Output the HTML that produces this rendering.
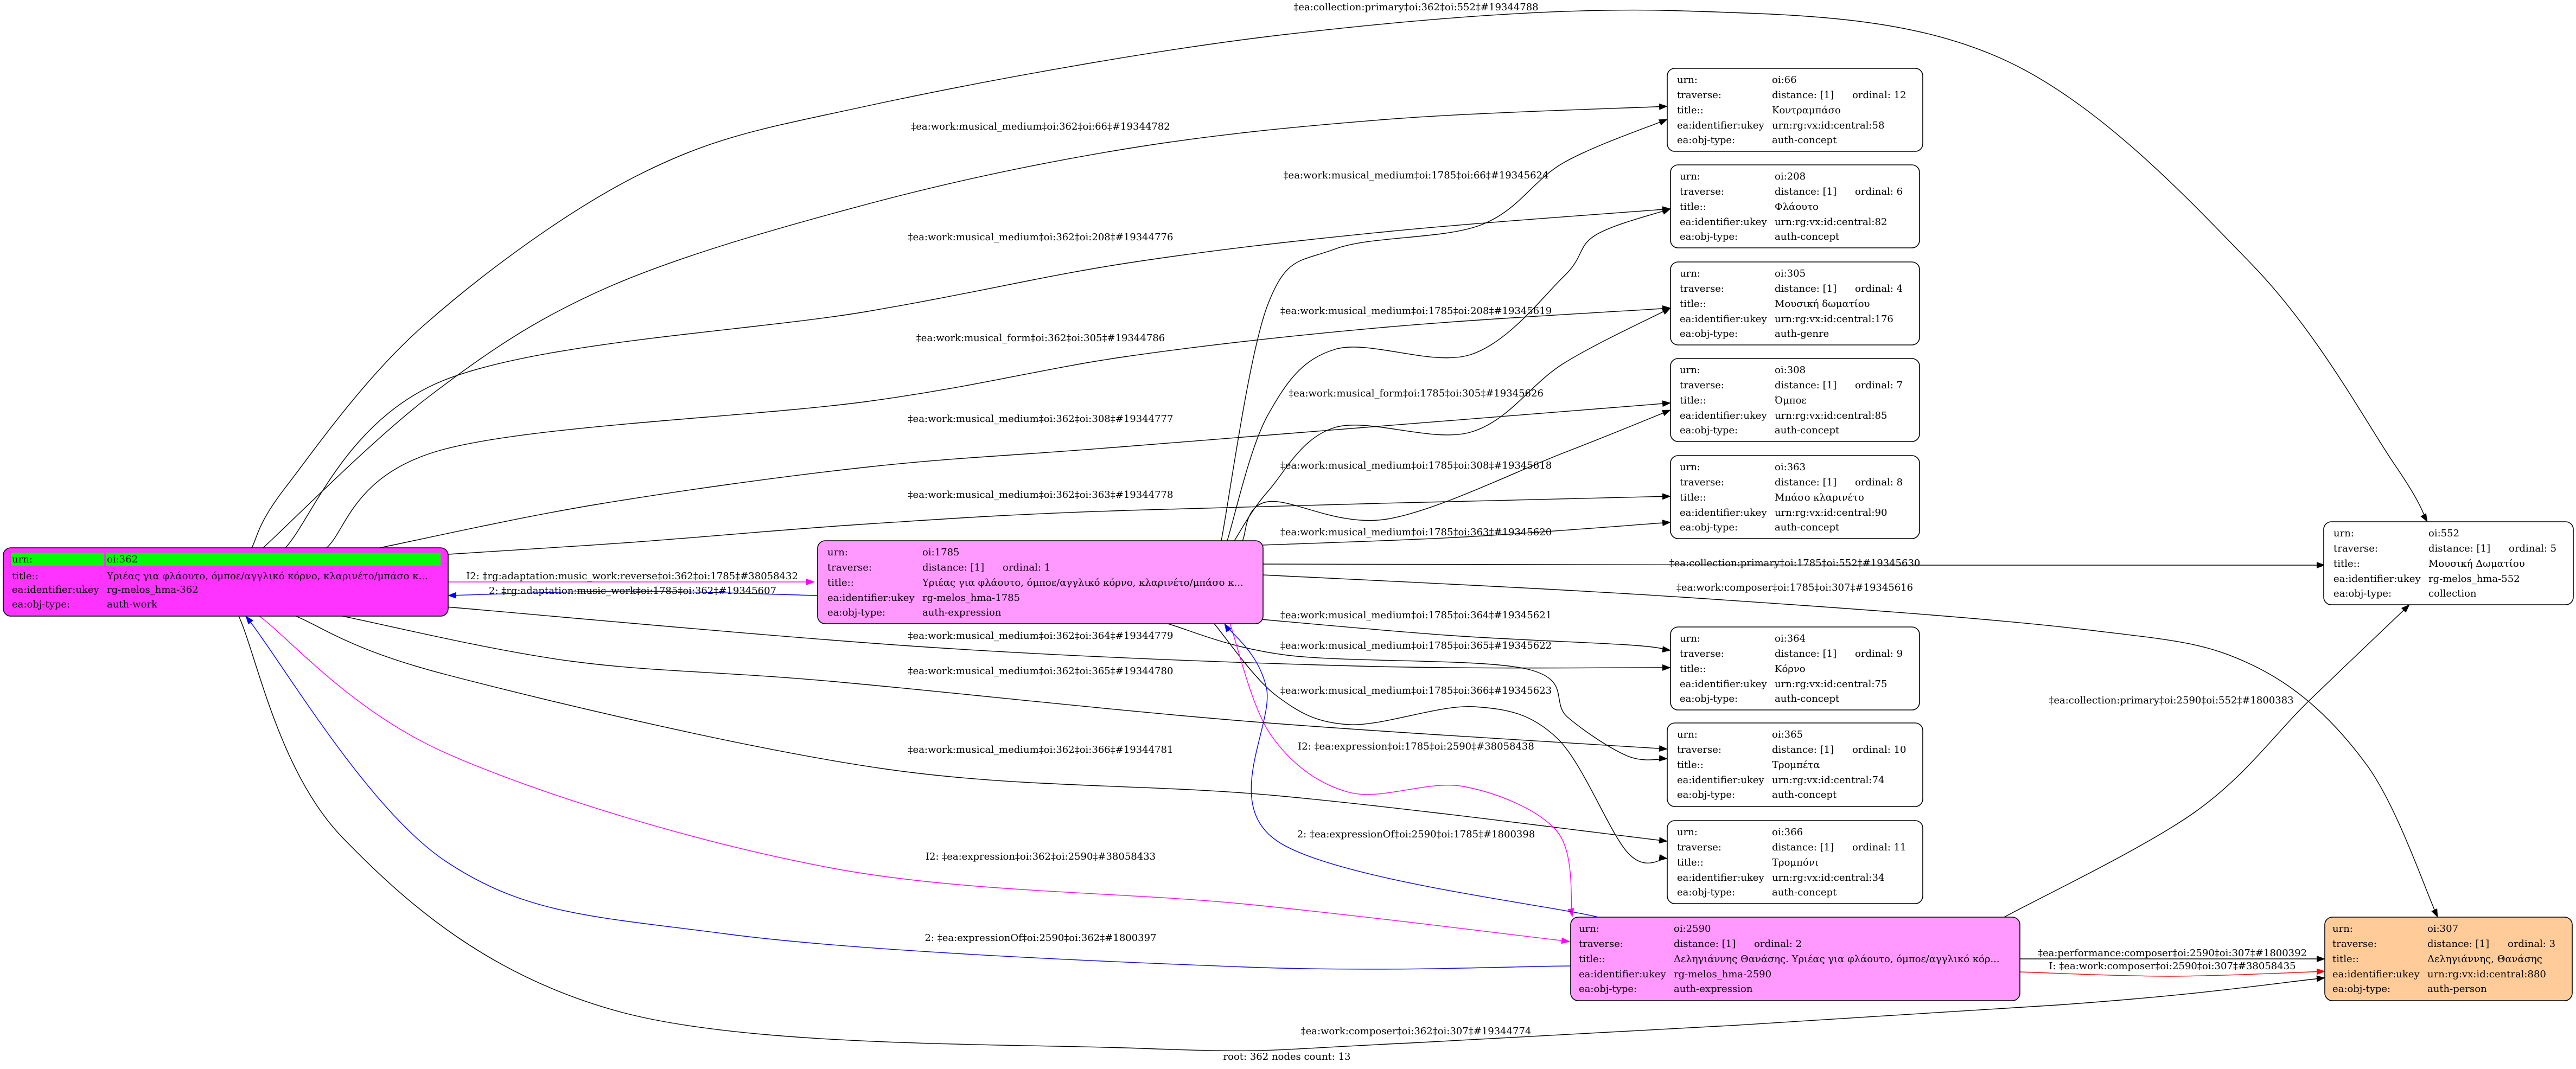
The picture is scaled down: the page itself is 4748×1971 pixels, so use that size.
<!DOCTYPE html>
<html><head><meta charset="utf-8"><style>
html,body{margin:0;padding:0;background:#fff;}
svg{display:block;}
text{font-family:"DejaVu Serif","Liberation Serif",serif;font-size:18px;fill:#000;}
.n{stroke:#000;stroke-width:1.6;}
</style></head><body>
<svg id="s" xmlns="http://www.w3.org/2000/svg" width="4748" height="1971" viewBox="0 0 4748 1971">
<defs>
<marker id="ak" markerUnits="userSpaceOnUse" markerWidth="16" markerHeight="12" refX="15" refY="6" orient="auto"><path d="M0,0 L16,6 L0,12 z" fill="#000"/></marker>
<marker id="am" markerUnits="userSpaceOnUse" markerWidth="16" markerHeight="12" refX="15" refY="6" orient="auto"><path d="M0,0 L16,6 L0,12 z" fill="#ff00ff"/></marker>
<marker id="ab" markerUnits="userSpaceOnUse" markerWidth="16" markerHeight="12" refX="15" refY="6" orient="auto"><path d="M0,0 L16,6 L0,12 z" fill="#0000ff"/></marker>
<marker id="ar" markerUnits="userSpaceOnUse" markerWidth="16" markerHeight="12" refX="15" refY="6" orient="auto"><path d="M0,0 L16,6 L0,12 z" fill="#ff0000"/></marker>
</defs>
<g id="edges"></g>

<g text-anchor="middle">
<text x="2610" y="19">‡ea:collection:primary‡oi:362‡oi:552‡#19344788</text>
<text x="1918" y="239">‡ea:work:musical_medium‡oi:362‡oi:66‡#19344782</text>
<text x="1918" y="443">‡ea:work:musical_medium‡oi:362‡oi:208‡#19344776</text>
<text x="1918" y="629">‡ea:work:musical_form‡oi:362‡oi:305‡#19344786</text>
<text x="1918" y="778">‡ea:work:musical_medium‡oi:362‡oi:308‡#19344777</text>
<text x="1918" y="918">‡ea:work:musical_medium‡oi:362‡oi:363‡#19344778</text>
<text x="1918" y="1178">‡ea:work:musical_medium‡oi:362‡oi:364‡#19344779</text>
<text x="1918" y="1243">‡ea:work:musical_medium‡oi:362‡oi:365‡#19344780</text>
<text x="1918" y="1388">‡ea:work:musical_medium‡oi:362‡oi:366‡#19344781</text>
<text x="1918" y="1585">I2: ‡ea:expression‡oi:362‡oi:2590‡#38058433</text>
<text x="1918" y="1735">2: ‡ea:expressionOf‡oi:2590‡oi:362‡#1800397</text>
<text x="2610" y="329">‡ea:work:musical_medium‡oi:1785‡oi:66‡#19345624</text>
<text x="2610" y="579">‡ea:work:musical_medium‡oi:1785‡oi:208‡#19345619</text>
<text x="2610" y="731">‡ea:work:musical_form‡oi:1785‡oi:305‡#19345626</text>
<text x="2610" y="864">‡ea:work:musical_medium‡oi:1785‡oi:308‡#19345618</text>
<text x="2610" y="987">‡ea:work:musical_medium‡oi:1785‡oi:363‡#19345620</text>
<text x="2610" y="1140">‡ea:work:musical_medium‡oi:1785‡oi:364‡#19345621</text>
<text x="2610" y="1196">‡ea:work:musical_medium‡oi:1785‡oi:365‡#19345622</text>
<text x="2610" y="1279">‡ea:work:musical_medium‡oi:1785‡oi:366‡#19345623</text>
<text x="2610" y="1382">I2: ‡ea:expression‡oi:1785‡oi:2590‡#38058438</text>
<text x="2610" y="1544">2: ‡ea:expressionOf‡oi:2590‡oi:1785‡#1800398</text>
<text x="2610" y="1907">‡ea:work:composer‡oi:362‡oi:307‡#19344774</text>
<text x="3308" y="1044">‡ea:collection:primary‡oi:1785‡oi:552‡#19345630</text>
<text x="3308" y="1089">‡ea:work:composer‡oi:1785‡oi:307‡#19345616</text>
<text x="4002" y="1297">‡ea:collection:primary‡oi:2590‡oi:552‡#1800383</text>
<text x="4004" y="1763">‡ea:performance:composer‡oi:2590‡oi:307‡#1800392</text>
<text x="4004" y="1787">I: ‡ea:work:composer‡oi:2590‡oi:307‡#38058435</text>
<text x="1165" y="1068">I2: ‡rg:adaptation:music_work:reverse‡oi:362‡oi:1785‡#38058432</text>
<text x="1166" y="1095">2: ‡rg:adaptation:music_work‡oi:1785‡oi:362‡#19345607</text>
<text x="2372" y="1954">root: 362 nodes count: 13</text>
</g>

<rect class="n" x="6" y="1010" width="820" height="126" rx="14" fill="#ff33ff"/>
<rect x="20" y="1019" width="172" height="24" fill="#00ff00"/>
<rect x="195" y="1019" width="617" height="24" fill="#00ff00"/>
<text x="22" y="1037">urn:</text><text x="197" y="1037">oi:362</text>
<text x="22" y="1068">title::</text><text x="197" y="1068">Υριέας για φλάουτο, όμποε/αγγλικό κόρνο, κλαρινέτο/μπάσο κ...</text>
<text x="22" y="1093">ea:identifier:ukey</text><text x="197" y="1093">rg-melos_hma-362</text>
<text x="22" y="1120">ea:obj-type:</text><text x="197" y="1120">auth-work</text>

<g id="nodes"></g>
</svg>
<script>
var NS="http://www.w3.org/2000/svg";
function el(p,t,a,txt){var e=document.createElementNS(NS,t);for(var k in a)e.setAttribute(k,a[k]);if(txt!==undefined)e.textContent=txt;p.appendChild(e);return e;}
var nodes=document.getElementById('nodes');
function node(x,y,w,h,fill,lx,rows,ordinal){
 el(nodes,'rect',{x:x,y:y,width:w,height:h,rx:14,fill:fill,'class':'n'});
 var vx=lx+175, ys=[y+21,y+49,y+77,y+105,y+132];
 var labels=['urn:','traverse:','title::','ea:identifier:ukey','ea:obj-type:'];
 for(var i=0;i<5;i++){
  el(nodes,'text',{x:lx,y:ys[i]+6},labels[i]);
  el(nodes,'text',{x:vx,y:ys[i]+6},rows[i]);
 }
 el(nodes,'text',{x:vx+148,y:ys[1]+6},'ordinal: '+ordinal);
}
node(1507,997,821,153,'#ff99ff',1525,['oi:1785','distance: [1]','Υριέας για φλάουτο, όμποε/αγγλικό κόρνο, κλαρινέτο/μπάσο κ...','rg-melos_hma-1785','auth-expression'],1);
node(2895,1691,828,154,'#ff99ff',2910,['oi:2590','distance: [1]','Δεληγιάννης Θανάσης. Υριέας για φλάουτο, όμποε/αγγλικό κόρ...','rg-melos_hma-2590','auth-expression'],2);
node(4285,1691,456,154,'#ffcc99',4299,['oi:307','distance: [1]','Δεληγιάννης, Θανάσης','urn:rg:vx:id:central:880','auth-person'],3);
node(4283,962,460,153,'#ffffff',4301,['oi:552','distance: [1]','Μουσική Δωματίου','rg-melos_hma-552','collection'],5);
node(3073,126,471,153,'#ffffff',3091,['oi:66','distance: [1]','Κοντραμπάσο','urn:rg:vx:id:central:58','auth-concept'],12);
node(3079,304,459,153,'#ffffff',3096,['oi:208','distance: [1]','Φλάουτο','urn:rg:vx:id:central:82','auth-concept'],6);
node(3079,483,459,153,'#ffffff',3096,['oi:305','distance: [1]','Μουσική δωματίου','urn:rg:vx:id:central:176','auth-genre'],4);
node(3079,661,459,153,'#ffffff',3096,['oi:308','distance: [1]','Όμποε','urn:rg:vx:id:central:85','auth-concept'],7);
node(3079,840,459,153,'#ffffff',3096,['oi:363','distance: [1]','Μπάσο κλαρινέτο','urn:rg:vx:id:central:90','auth-concept'],8);
node(3079,1156,459,153,'#ffffff',3096,['oi:364','distance: [1]','Κόρνο','urn:rg:vx:id:central:75','auth-concept'],9);
node(3073,1333,471,154,'#ffffff',3091,['oi:365','distance: [1]','Τρομπέτα','urn:rg:vx:id:central:74','auth-concept'],10);
node(3073,1513,471,153,'#ffffff',3091,['oi:366','distance: [1]','Τρομπόνι','urn:rg:vx:id:central:34','auth-concept'],11);

var edges=document.getElementById('edges');
function cr(p){var d='M'+p[0][0]+','+p[0][1];
 for(var i=0;i<p.length-1;i++){var p0=p[i-1]||p[i],p1=p[i],p2=p[i+1],p3=p[i+2]||p2;
  var c1=[p1[0]+(p2[0]-p0[0])/6,p1[1]+(p2[1]-p0[1])/6],c2=[p2[0]-(p3[0]-p1[0])/6,p2[1]-(p3[1]-p1[1])/6];
  d+=' C'+c1[0].toFixed(1)+','+c1[1].toFixed(1)+' '+c2[0].toFixed(1)+','+c2[1].toFixed(1)+' '+p2[0]+','+p2[1];}
 return d;}
function E(p,c){c=c||'k';var col={k:'#000',m:'#ff00ff',b:'#0000ff',r:'#ff0000'}[c];
 el(edges,'path',{d:cr(p),style:'fill:none;stroke:'+col+';stroke-width:1.4','marker-end':'url(#a'+c+')'});}
E([[464,1010],[526,899],[781,600],[1184,319],[1600,195],[2365,64],[3100,20],[3689,108],[4151,488],[4414,857],[4474,962]]);
E([[485,1010],[796,727],[1122,529],[1600,376],[2078,274],[2557,220],[3073,196]]);
E([[526,1010],[816,702],[1600,574],[2078,485],[2557,427],[3079,385]]);
E([[602,1010],[816,829],[1600,740],[2078,657],[2557,603],[3079,568]]);
E([[700,1010],[1100,930],[1600,861],[2078,823],[3079,743]]);
E([[826,1022],[1163,1000],[1600,966],[2078,941],[3079,915]]);
E([[823,1119],[1722,1194],[2500,1228],[3079,1231]]);
E([[631,1136],[1052,1219],[1530,1256],[2300,1330],[3073,1381]]);
E([[545,1136],[823,1244],[1626,1417],[2353,1467],[3073,1551]]);
E([[440,1136],[631,1544],[1148,1867],[2104,1933],[2600,1923],[3792,1853],[4285,1803]]);
E([[478,1136],[823,1389],[1530,1600],[2296,1667],[2893,1736]],'m');
E([[2895,1781],[2296,1783],[1339,1722],[823,1589],[453,1136]],'b');
E([[826,1073],[1501,1073]],'m');
E([[1507,1098],[1160,1090],[826,1098]],'b');
E([[2251,997],[2337,561],[2461,459],[2729,415],[2882,300],[3073,220]]);
E([[2262,997],[2337,765],[2461,644],[2710,654],[2882,510],[2940,434],[3079,385]]);
E([[2275,997],[2337,906],[2461,788],[2710,797],[2882,670],[3079,568]]);
E([[2290,997],[2337,925],[2557,957],[2882,835],[3079,756]]);
E([[2328,1005],[2700,990],[3079,963]]);
E([[2328,1040],[3500,1042],[4285,1042]]);
E([[2328,1060],[3100,1101],[3836,1160],[4151,1226],[4362,1410],[4493,1691]]);
E([[2324,1142],[2678,1172],[3000,1189],[3079,1199]]);
E([[2152,1150],[2372,1208],[2812,1233],[2889,1322],[3000,1394],[3073,1399]]);
E([[2238,1150],[2353,1283],[2487,1336],[2717,1303],[2870,1361],[3000,1572],[3073,1583]]);
E([[2267,1150],[2343,1356],[2487,1461],[2697,1450],[2870,1533],[2898,1690]],'m');
E([[2946,1691],[2353,1550],[2334,1267],[2257,1150]],'b');
E([[3694,1691],[4046,1497],[4257,1291],[4441,1115]]);
E([[3723,1768],[4285,1768]]);
E([[3723,1792],[4000,1800],[4285,1791]],'r');
</script>
</body></html>
